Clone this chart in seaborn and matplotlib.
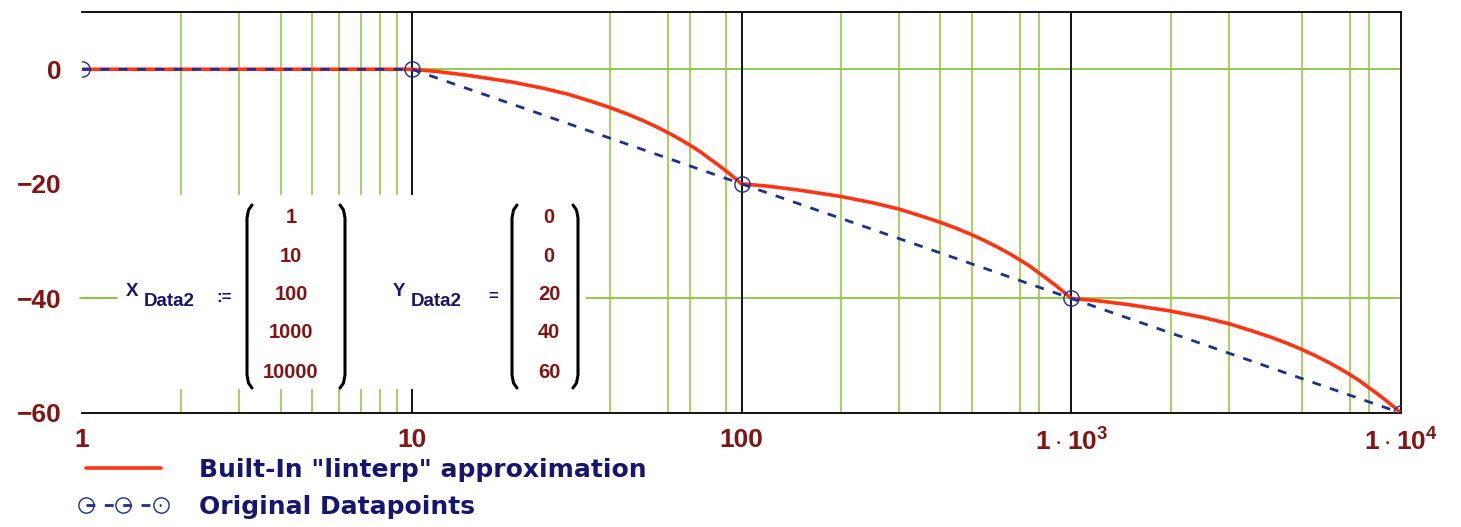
import numpy as np
import pandas as pd
import seaborn as sns
import matplotlib.pyplot as plt
from matplotlib.lines import Line2D
from matplotlib.patches import Rectangle
from matplotlib.ticker import FixedLocator, NullFormatter

# original datapoints (matrix in the picture)
x_data = [1, 10, 100, 1000, 10000]
y_data = [0, 0, -20, -40, -60]

# red "linterp" curve
interp_x = [1, 10, 12, 15, 20, 25, 30, 35, 40, 45, 50, 55, 60, 65, 70, 75, 80, 85, 90, 95, 100,
            120, 150, 200, 250, 300, 350, 400, 450, 500, 550, 600, 650, 700, 750, 800, 850, 900, 950, 1000,
            1200, 1500, 2000, 2500, 3000, 3500, 4000, 4500, 5000, 5500, 6000, 6500, 7000, 7500, 8000,
            8500, 9000, 9500, 10000]
interp_y = [0, 0, -0.4, -1.1, -2.2, -3.3, -4.4, -5.6, -6.7, -7.8, -8.9, -10.0, -11.1, -12.2,
            -13.3, -14.4, -15.6, -16.7, -17.8, -18.9, -20,
            -20.4, -21.1, -22.2, -23.3, -24.4, -25.6, -26.7, -27.8, -28.9, -30.0, -31.1, -32.2,
            -33.3, -34.4, -35.6, -36.7, -37.8, -38.9, -40,
            -40.4, -41.1, -42.2, -43.3, -44.4, -45.6, -46.7, -47.8, -48.9, -50.0, -51.1, -52.2,
            -53.3, -54.4, -55.6, -56.7, -57.8, -58.9, -60]

x_ticks = [1, 10, 100, 1000, 10000]
x_ticklabels = ['1', '10', '100', r'$\mathbf{1\cdot10^{3}}$', r'$\mathbf{1\cdot10^{4}}$']
y_ticks = [0, -20, -40, -60]
# green grid lines as they show in the picture
x_grid = [2, 3, 4, 5, 6, 7, 8, 9, 40, 60, 70, 90,
          200, 300, 400, 500, 700, 800, 2000, 3000, 5000, 7000, 8000]
x_black = [10, 100, 1000]
y_grid = [0, -40]

labels = ['Built-In "linterp" approximation', 'Original Datapoints']
matrix_x = ['1', '10', '100', '1000', '10000']
matrix_y = ['0', '0', '20', '40', '60']

sns.set_theme(style='white')
plt.rcParams['font.family'] = ['Liberation Sans', 'DejaVu Sans']
plt.rcParams['mathtext.fontset'] = 'custom'
plt.rcParams['mathtext.bf'] = 'Liberation Sans:bold'
plt.rcParams['mathtext.rm'] = 'Liberation Sans'

RED = '#ff3412'
BLUE = '#1d2f8f'
NAVY = '#16166e'
DARKRED = '#821414'
GREEN = '#8cc63c'

W, H = 1461, 527
fig = plt.figure(figsize=(W / 100, H / 100), dpi=100)
ax = fig.add_axes([82 / W, 1 - 413 / H, (1401 - 82) / W, (413 - 12) / H])

for xv in x_grid:
    ax.axvline(xv, color=GREEN, lw=1.1, zorder=1)
for xv in x_black:
    ax.axvline(xv, color='black', lw=1.3, zorder=1.1)
for yv in y_grid:
    ax.axhline(yv, color=GREEN, lw=1.3, zorder=1)

# white box of the matrix definitions covering the grid
ax.add_patch(Rectangle((1.28, -55.8), 33.8 - 1.28, 55.8 - 21.9,
                       facecolor='white', edgecolor='none', zorder=1.5))

sns.lineplot(x=interp_x, y=interp_y, ax=ax, color=RED, lw=2.6,
             sort=False, label=labels[0], zorder=3)
sns.lineplot(x=x_data, y=y_data, ax=ax, color=BLUE, lw=2.0,
             linestyle=(0, (3.2, 3.4)), marker='o', markersize=11,
             markerfacecolor='none', markeredgecolor=BLUE, markeredgewidth=1.0,
             sort=False, label=labels[1], zorder=4)

ax.set_xscale('log')
ax.set_xlim(1, 10000)
ax.set_ylim(-60, 10)
ax.set_xticks(x_ticks)
ax.set_xticklabels(x_ticklabels)
ax.xaxis.set_minor_locator(FixedLocator([]))
ax.xaxis.set_minor_formatter(NullFormatter())
ax.set_yticks(y_ticks)
ax.tick_params(axis='both', length=0, labelsize=19, labelcolor=DARKRED)
ax.tick_params(axis='y', pad=15)
ax.tick_params(axis='x', pad=11)
for t in ax.get_xticklabels() + ax.get_yticklabels():
    t.set_fontweight('bold')
ax.set_xlabel('')
ax.set_ylabel('')

for side in ['top', 'right', 'bottom']:
    ax.spines[side].set_color('black')
    ax.spines[side].set_linewidth(1.3)
ax.spines['left'].set_visible(False)

handles, _ = ax.get_legend_handles_labels()
ax.legend(handles, labels, loc='upper left',
          bbox_to_anchor=(78 / W, 1 - 458 / H), bbox_transform=fig.transFigure,
          frameon=False, borderpad=0, borderaxespad=0, handlelength=3.6,
          handletextpad=1.25, labelspacing=0.52, numpoints=3,
          prop=dict(family='DejaVu Sans', weight='bold', size=18),
          labelcolor=NAVY)

# matrix definitions drawn on the chart
def ftext(x, y, s, **kw):
    fig.text(x / W, 1 - y / H, s, **kw)

def bracket(x, top, bot, left=True):
    d = 5 if left else -5
    xs = [x + d, x + d * 0.3, x, x, x + d * 0.3, x + d]
    ys = [top, top + 5, top + 13, bot - 13, bot - 5, bot]
    fig.add_artist(Line2D([v / W for v in xs], [1 - v / H for v in ys],
                          color='black', lw=2.2, transform=fig.transFigure))

fig.add_artist(Line2D([80 / W, 117 / W], [1 - 298 / H] * 2, color=GREEN, lw=1.3))
ftext(126, 292, 'X', color=NAVY, fontsize=13.5, fontweight='bold', va='center')
ftext(144, 301, 'Data2', color=NAVY, fontsize=13.5, fontweight='bold', va='center')
ftext(216, 297, ':=', color=NAVY, fontsize=12, fontweight='bold', va='center')
ftext(393, 292, 'Y', color=NAVY, fontsize=13.5, fontweight='bold', va='center')
ftext(411, 301, 'Data2', color=NAVY, fontsize=13.5, fontweight='bold', va='center')
ftext(488, 297, '=', color=NAVY, fontsize=12, fontweight='bold', va='center')

rows = [218, 257, 295, 333, 372]
for yv, sx, sy in zip(rows, matrix_x, matrix_y):
    ftext(291, yv, sx, color=DARKRED, fontsize=14.5, fontweight='bold', ha='center', va='center')
    ftext(549, yv, sy, color=DARKRED, fontsize=14.5, fontweight='bold', ha='center', va='center')
bracket(247, 205, 388, True)
bracket(345, 205, 388, False)
bracket(512, 205, 388, True)
bracket(578, 205, 388, False)

fig.savefig('out.png', dpi=100)
